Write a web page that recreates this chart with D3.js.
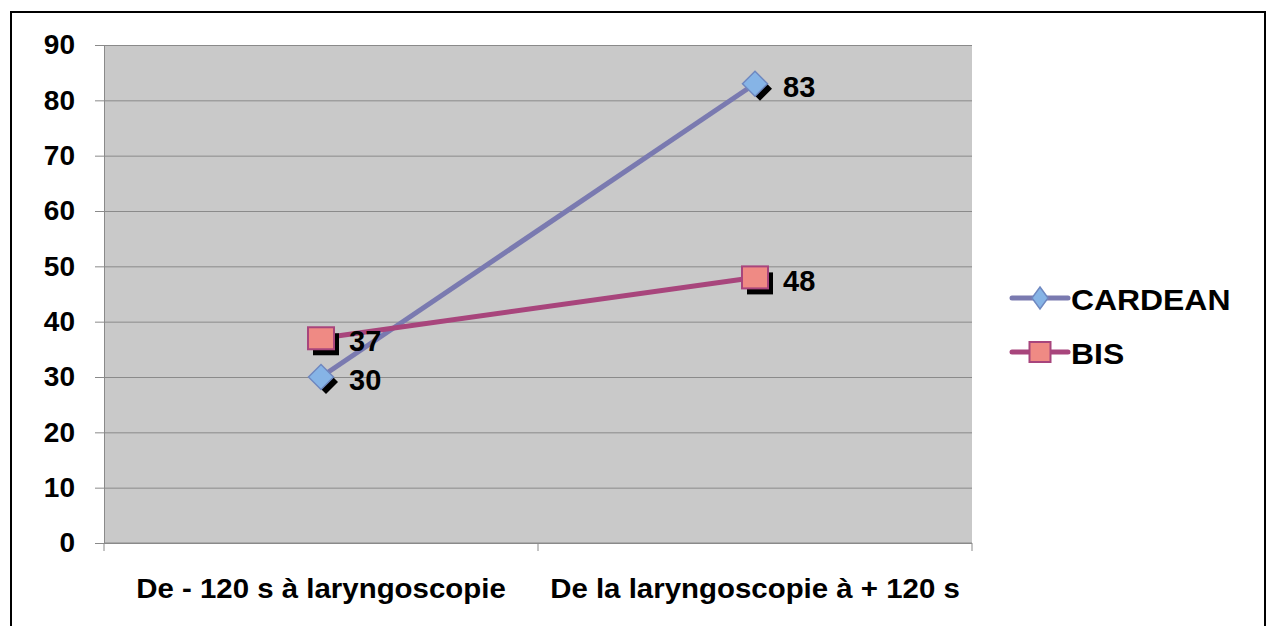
<!DOCTYPE html>
<html>
<head>
<meta charset="utf-8">
<script src="https://cdn.jsdelivr.net/npm/d3@7"></script>
<style>
  body { margin: 0; background: #fff; }
  svg { display: block; font-family: "Liberation Sans", Arial, sans-serif; font-weight: bold; }
</style>
</head>
<body>
<div id="chart"></div>
<script>
const categories = ["De - 120 s à laryngoscopie", "De la laryngoscopie à + 120 s"];
const cardean = [30, 83];
const bis = [37, 48];
const yTicks = [0, 10, 20, 30, 40, 50, 60, 70, 80, 90];

const width = 1268;
const height = 626;
const margin = { top: 45, right: 296, bottom: 83, left: 104 };

const svg = d3.select("#chart").append("svg")
  .attr("width", width)
  .attr("height", height);

// frame
svg.append("rect")
  .attr("x", 11).attr("y", 12)
  .attr("width", 1254).attr("height", 640)
  .attr("fill", "none").attr("stroke", "#000").attr("stroke-width", 2);

const x = d3.scaleBand()
  .domain(categories)
  .range([margin.left, width - margin.right]);
const y = d3.scaleLinear()
  .domain([0, 90])
  .range([height - margin.bottom, margin.top]);

// plot area
svg.append("rect")
  .attr("x", margin.left).attr("y", margin.top)
  .attr("width", width - margin.right - margin.left)
  .attr("height", y(0) - margin.top)
  .attr("fill", "#c9c9c9");

// grid + y axis
const gY = svg.append("g")
  .attr("transform", `translate(${margin.left},0)`)
  .call(d3.axisLeft(y).tickValues(yTicks).tickSize(9).tickPadding(20))
  .call(g => g.select(".domain").attr("stroke", "#8a8a8a"))
  .attr("font-size", null).attr("font-family", null);
gY.selectAll(".tick line").attr("stroke", "#8a8a8a");
gY.selectAll(".tick")
  .append("line")
  .attr("x2", width - margin.right - margin.left)
  .attr("stroke", "#8a8a8a");
gY.selectAll(".tick text").attr("fill", "#000").style("font-size", "28px");

// x axis
const xEdges = [margin.left, ...categories.map(c => x(c) + x.bandwidth())];
const gX = svg.append("g").attr("transform", `translate(0,${y(0)})`);
gX.append("line")
  .attr("x1", margin.left).attr("x2", width - margin.right)
  .attr("stroke", "#8a8a8a");
gX.selectAll(".edge").data(xEdges).join("line")
  .attr("class", "edge")
  .attr("x1", d => d).attr("x2", d => d)
  .attr("y1", 0).attr("y2", 8)
  .attr("stroke", "#8a8a8a");
gX.selectAll("text").data(categories).join("text")
  .attr("transform", d => `translate(${x(d) + x.bandwidth() / 2},55) scale(1.09,1)`)
  .attr("text-anchor", "middle")
  .style("font-size", "27px")
  .attr("fill", "#000")
  .text(d => d);

const cx = d => x(d) + x.bandwidth() / 2;

const series = [
  { name: "CARDEAN", values: cardean, line: "#7a7ab0", fill: "#86b4e6", stroke: "#6f88c0", shape: "diamond" },
  { name: "BIS", values: bis, line: "#a8457c", fill: "#ef8a84", stroke: "#a8457c", shape: "square" }
];

const line = d3.line().x(d => d[0]).y(d => d[1]);

function diamondPath(px, py, rx, ry) {
  return `M${px},${py - ry}L${px + rx},${py}L${px},${py + ry}L${px - rx},${py}Z`;
}

function marker(g, s, px, py, w, h) {
  if (s.shape === "diamond") {
    g.append("path")
      .attr("d", diamondPath(px, py, w / 2, h / 2))
      .attr("fill", s.fill).attr("stroke", s.stroke).attr("stroke-width", 1.5);
  } else {
    g.append("rect")
      .attr("x", px - w / 2).attr("y", py - h / 2)
      .attr("width", w).attr("height", h)
      .attr("fill", s.fill).attr("stroke", s.stroke).attr("stroke-width", 2);
  }
}

series.forEach(s => {
  const pts = categories.map((c, i) => [cx(c), y(s.values[i])]);
  svg.append("path")
    .attr("d", line(pts))
    .attr("fill", "none")
    .attr("stroke", s.line)
    .attr("stroke-width", 5);
});

series.forEach(s => {
  const g = svg.append("g");
  categories.forEach((c, i) => {
    const px = cx(c), py = y(s.values[i]);
    // shadow
    if (s.shape === "diamond") {
      g.append("path")
        .attr("d", diamondPath(px + 5, py + 5, 12, 12))
        .attr("fill", "#000");
    } else {
      g.append("rect")
        .attr("x", px - 13 + 5).attr("y", py - 11 + 6)
        .attr("width", 26).attr("height", 22)
        .attr("fill", "#000");
    }
    if (s.shape === "diamond") marker(g, s, px, py, 25, 25);
    else marker(g, s, px, py, 26, 22);
    g.append("text")
      .attr("x", px + 28)
      .attr("y", py + 3)
      .attr("dy", "0.35em")
      .style("font-size", "29px")
      .attr("fill", "#000")
      .text(s.values[i]);
  });
});

// legend
const legend = svg.append("g").attr("transform", "translate(1012,298)");
series.forEach((s, i) => {
  const g = legend.append("g").attr("transform", `translate(0,${i * 54})`);
  g.append("line")
    .attr("x1", 0).attr("x2", 56)
    .attr("stroke", s.line).attr("stroke-width", 5)
    .attr("stroke-linecap", "round");
  if (s.shape === "diamond") marker(g, s, 28, 0, 16, 22);
  else marker(g, s, 28, 0, 21, 20);
  g.append("text")
    .attr("transform", "translate(59,2) scale(1.1,1)")
    .attr("dy", "0.35em")
    .style("font-size", "29px")
    .attr("fill", "#000")
    .text(s.name);
});
</script>
</body>
</html>
